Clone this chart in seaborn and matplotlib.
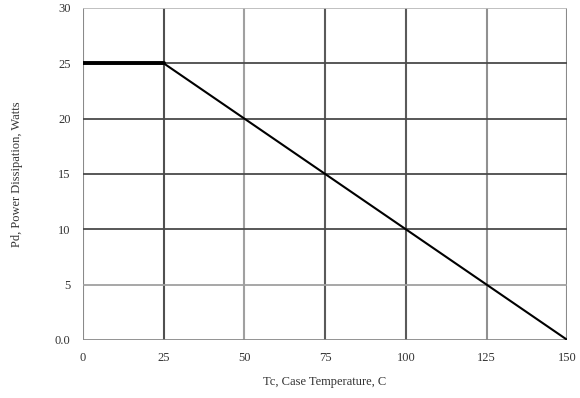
import matplotlib
matplotlib.use("Agg")
import matplotlib.pyplot as plt
import seaborn as sns
import pandas as pd

temps = [0, 25, 150]
power = [25, 25, 0]
x_ticks = [0, 25, 50, 75, 100, 125, 150]
y_ticks = [0, 5, 10, 15, 20, 25, 30]
y_tick_labels = ["0.0", "5", "10", "15", "20", "25", "30"]
x_tick_labels = ["0", "25", "50", "75", "100", "125", "150"]

sns.set_theme(style="white")
plt.rcParams["font.family"] = ["Liberation Serif", "DejaVu Serif"]

fig = plt.figure(figsize=(5.8, 3.98), dpi=100)
ax = fig.add_axes([0.143, 0.146, 0.835, 0.834])

# grid lines (dark/light alternation as in the scan)
vcolors = {0: "#8a8a8a", 25: "#505050", 50: "#a0a0a0", 75: "#5a5a5a", 100: "#5a5a5a", 125: "#909090", 150: "#8a8a8a"}
hcolors = {0: "#8a8a8a", 5: "#a0a0a0", 10: "#4a4a4a", 15: "#4a4a4a", 20: "#4a4a4a", 25: "#4a4a4a", 30: "#bbbbbb"}
for xv in x_ticks:
    ax.axvline(xv, color=vcolors[xv], lw=1.5, zorder=1)
for yv in y_ticks:
    ax.axhline(yv, color=hcolors[yv], lw=1.3, zorder=1)

df = pd.DataFrame({"Tc": temps, "Pd": power})
sns.lineplot(data=df, x="Tc", y="Pd", ax=ax, color="black", lw=1.5, zorder=3)
sns.lineplot(data=df.iloc[:2], x="Tc", y="Pd", ax=ax, color="black", lw=2.8, zorder=3)

ax.set_xlim(0, 150)
ax.set_ylim(0, 30)
ax.set_xticks(x_ticks)
ax.set_xticklabels(x_tick_labels, fontsize=9, color="#333333")
ax.set_yticks(y_ticks)
ax.set_yticklabels(y_tick_labels, fontsize=9, color="#333333")
ax.tick_params(axis="both", length=0, pad=9)
for s in ax.spines.values():
    s.set_visible(False)

ax.set_xlabel("Tc, Case Temperature, C", fontsize=9, color="#333333", labelpad=8)
ax.set_ylabel("Pd, Power Dissipation, Watts", fontsize=9, color="#333333", labelpad=23)

fig.savefig("out.png", dpi=100)
